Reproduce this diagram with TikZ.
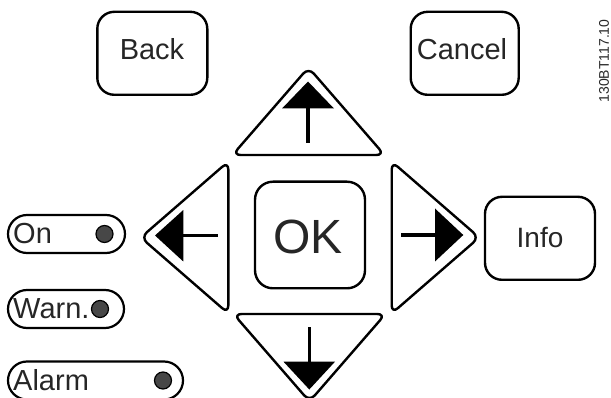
\documentclass[tikz,border=0pt]{standalone}
\usepackage{fontspec}
\setmainfont{Liberation Sans}
\begin{document}
\begin{tikzpicture}[x=1pt,y=-1pt]
\useasboundingbox (0,0) rectangle (611,398);
\tikzset{
  outl/.style={draw=black, line width=2.4pt},
  btn/.style={outl, rounded corners=17pt, inner sep=0pt, minimum width=110pt, minimum height=83pt},
  lbl/.style={text=black!85, font=\fontsize{29}{29}\selectfont, inner sep=0pt},
  tri/.style={outl, rounded corners=8pt, line join=round},
  head/.style={fill=black, draw=none},
  shaft/.style={draw=black, line width=3.5pt},
  pill/.style={outl, line width=2.2pt, rounded corners=19pt, inner sep=0pt, minimum height=38pt},
  led/.style={circle, fill=black!72, draw=black, line width=1.2pt, minimum size=17pt, inner sep=0pt},
  ledtxt/.style={text=black!85, font=\fontsize{29}{29}\selectfont, inner sep=0pt, anchor=west}
}
% top buttons
\node[btn] (back) at (152.3,53.3) {};
\node[lbl] (backt) at (152,49) {Back};
\node[btn, minimum width=108pt] (cancel) at (464.7,53.3) {};
\node[lbl] (cancelt) at (462,49) {Cancel};
% code
\node[text=black!85, font=\fontsize{14}{14}\selectfont, rotate=90, inner sep=0pt] (code) at (604,61) {130BT117.10};
% OK
\node[btn, rounded corners=18pt, minimum width=110pt, minimum height=106.6pt] (ok) at (310,235) {};
\node[lbl, font=\fontsize{48}{48}\selectfont] (okt) at (308,236.7) {OK};
% Info
\node[btn] (info) at (540,238.3) {};
\node[lbl, font=\fontsize{28}{28}\selectfont] (infot) at (540,237.5) {Info};
% up triangle
\draw[tri] (308.5,67.5) -- (384.5,155) -- (232.5,155) -- cycle;
\fill[head] (308,81.5) -- (334,108.5) -- (282,108.5) -- cycle;
\draw[shaft] (308,108) -- (308,143);
% down triangle
\draw[tri] (233.5,314) -- (385.5,314) -- (309.5,401.5) -- cycle;
\fill[head] (309.3,389.5) -- (335,361.7) -- (283.5,361.7) -- cycle;
\draw[shaft] (309.3,362) -- (309.3,326.7);
% left triangle
\draw[tri] (228.3,161.5) -- (228.3,313.5) -- (140.8,237.5) -- cycle;
\fill[head] (155,235.5) -- (183.3,210) -- (183.3,261.5) -- cycle;
\draw[shaft] (183,235.5) -- (218,235.5);
% right triangle
\draw[tri] (391.7,161.5) -- (479.2,237.5) -- (391.7,313.5) -- cycle;
\fill[head] (463.3,235) -- (435,208.5) -- (435,261.5) -- cycle;
\draw[shaft] (435.5,235) -- (400.7,235);
% LEDs
\node[pill, minimum width=117pt] (on) at (66.5,234) {};
\node[ledtxt] (ont) at (13,234) {On};
\node[led] (onled) at (104.5,234) {};
\node[pill, minimum width=116pt] (warn) at (66,309) {};
\node[ledtxt] (warnt) at (13,309) {Warn.};
\node[led] (warnled) at (100,309) {};
\node[pill, minimum width=175pt] (alarm) at (95.5,380.5) {};
\node[ledtxt] (alarmt) at (13,380.5) {Alarm};
\node[led] (alarmled) at (163,380.5) {};
\end{tikzpicture}
\end{document}
